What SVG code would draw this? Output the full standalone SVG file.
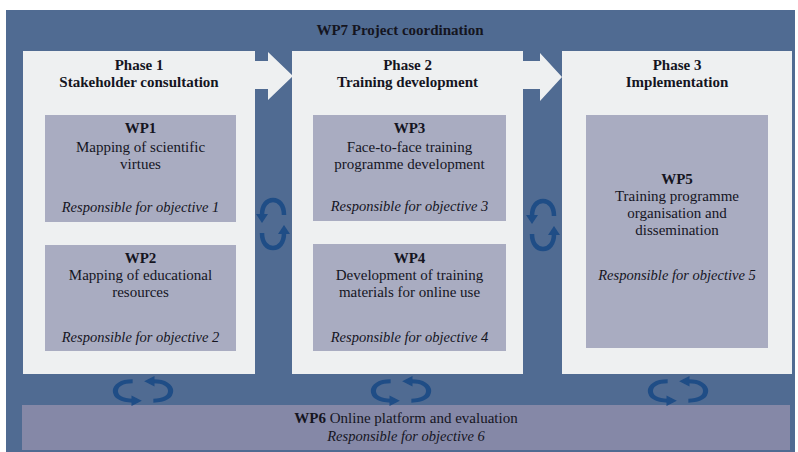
<svg xmlns="http://www.w3.org/2000/svg" xmlns:xlink="http://www.w3.org/1999/xlink" width="798" height="452" viewBox="0 0 798 452" font-family="'Liberation Serif', 'DejaVu Serif', serif">
<style>
text{font-family:"Liberation Serif","DejaVu Serif",serif}
.t{fill:#15151f;text-anchor:middle}
.b{font-weight:bold;font-size:15px}
.r{font-size:15px}
.i{font-style:italic;font-size:14.5px}
.phase{fill:#eef0f1}
.wp{fill:#a9acc1}
.wp6{fill:#8588a7}
.arr{fill:#eef0f1}
.cy{fill:none;stroke:#1f4d86;stroke-width:4.5;stroke-linecap:butt}
.cyh{fill:#1f4d86}
</style>
<defs>
<g id="cyc">
<path class="cy" d="M 11 -9 C 11 -19 6 -24 0 -24 C -6 -24 -11 -19 -11 -9"/>
<polygon class="cyh" points="-17,-10 -5,-10 -11,-1"/>
<path class="cy" d="M -11 9 C -11 19 -6 24 0 24 C 6 24 11 19 11 9"/>
<polygon class="cyh" points="5,10 17,10 11,1"/>
</g>
</defs>
<rect x="0" y="0" width="798" height="452" fill="#ffffff"/>
<g id="wp7">
<rect x="6" y="10" width="789" height="442" fill="#506b92"/>
<text class="t b" x="400" y="35">WP7 Project coordination</text>
</g>
<g id="phase1">
<rect class="phase" x="23" y="51" width="232" height="323"/>
<text class="t b" x="139" y="70">Phase 1</text>
<text class="t b" x="139" y="87">Stakeholder consultation</text>
</g>
<g id="phase2">
<rect class="phase" x="292" y="51" width="231" height="323"/>
<text class="t b" x="407.5" y="70">Phase 2</text>
<text class="t b" x="407.5" y="87">Training development</text>
</g>
<g id="phase3">
<rect class="phase" x="562" y="51" width="230" height="323"/>
<text class="t b" x="677" y="70">Phase 3</text>
<text class="t b" x="677" y="87">Implementation</text>
</g>
<g id="wp1">
<rect class="wp" x="45" y="115" width="191" height="107"/>
<text class="t b" x="140.5" y="133">WP1</text>
<text class="t r" x="140.5" y="152">Mapping of scientific</text>
<text class="t r" x="140.5" y="169">virtues</text>
<text class="t i" x="140.5" y="212">Responsible for objective 1</text>
</g>
<g id="wp2">
<rect class="wp" x="45" y="245" width="191" height="106"/>
<text class="t b" x="140.5" y="263">WP2</text>
<text class="t r" x="140.5" y="280">Mapping of educational</text>
<text class="t r" x="140.5" y="297">resources</text>
<text class="t i" x="140.5" y="342">Responsible for objective 2</text>
</g>
<g id="wp3">
<rect class="wp" x="313" y="115" width="193" height="106"/>
<text class="t b" x="409.5" y="133">WP3</text>
<text class="t r" x="409.5" y="152">Face-to-face training</text>
<text class="t r" x="409.5" y="169">programme development</text>
<text class="t i" x="409.5" y="211">Responsible for objective 3</text>
</g>
<g id="wp4">
<rect class="wp" x="313" y="244" width="193" height="107"/>
<text class="t b" x="409.5" y="263">WP4</text>
<text class="t r" x="409.5" y="280">Development of training</text>
<text class="t r" x="409.5" y="297">materials for online use</text>
<text class="t i" x="409.5" y="342">Responsible for objective 4</text>
</g>
<g id="wp5">
<rect class="wp" x="586" y="115" width="182" height="233"/>
<text class="t b" x="677" y="184">WP5</text>
<text class="t r" x="677" y="201">Training programme</text>
<text class="t r" x="677" y="218">organisation and</text>
<text class="t r" x="677" y="235">dissemination</text>
<text class="t i" x="677" y="280">Responsible for objective 5</text>
</g>
<g id="wp6">
<rect class="wp6" x="22" y="405" width="768" height="45"/>
<text class="t r" x="406" y="423"><tspan font-weight="bold">WP6</tspan> Online platform and evaluation</text>
<text class="t i" x="406" y="441">Responsible for objective 6</text>
</g>
<g id="connectors">
<polygon class="arr" points="254,61 268,61 268,52 293,76 268,100 268,89 254,89"/>
<polygon class="arr" points="522,61 540,61 540,53 562,77 540,101 540,89 522,89"/>
<use xlink:href="#cyc" transform="translate(273,224)"/>
<use xlink:href="#cyc" transform="translate(543,225)"/>
<use xlink:href="#cyc" transform="translate(143,391) rotate(-90) scale(0.88,1.15)"/>
<use xlink:href="#cyc" transform="translate(401,391) rotate(-90) scale(0.88,1.15)"/>
<use xlink:href="#cyc" transform="translate(678,391) rotate(-90) scale(0.88,1.15)"/>
</g>
</svg>
